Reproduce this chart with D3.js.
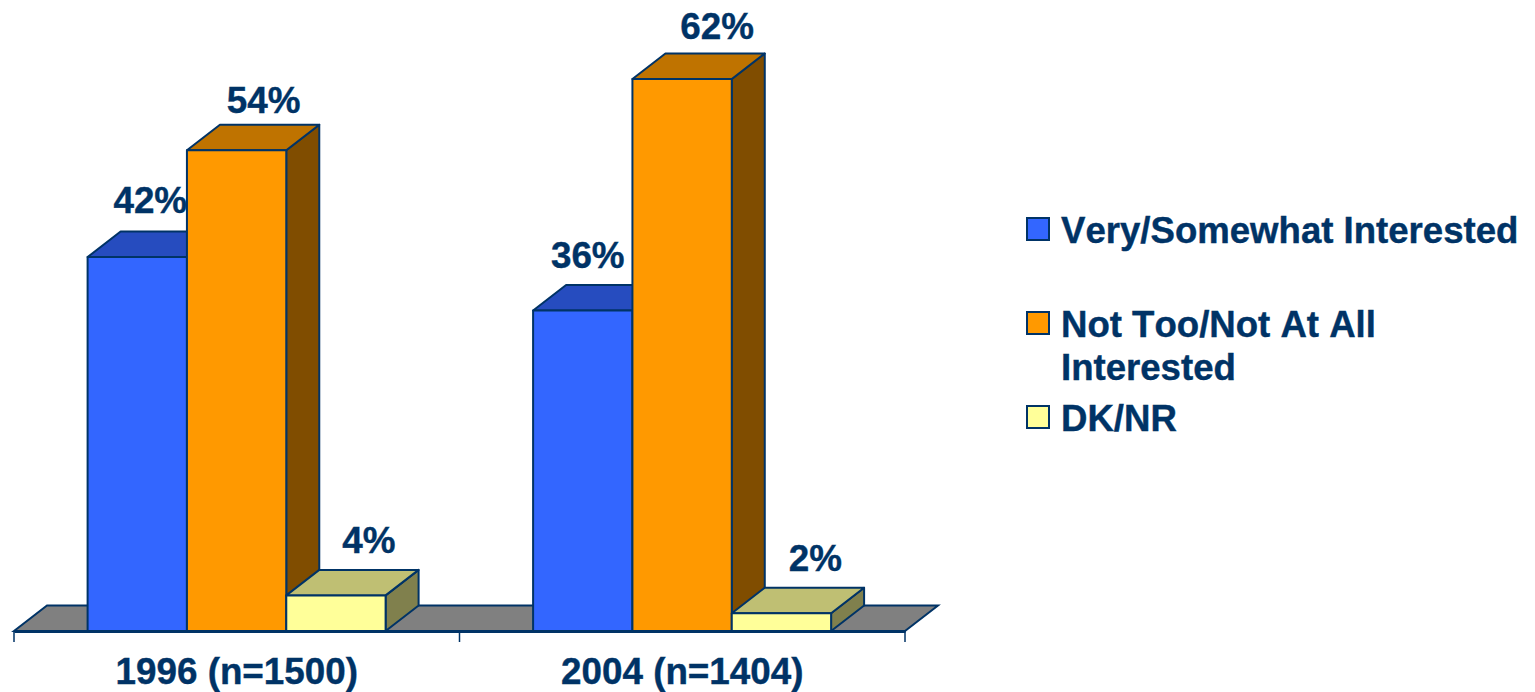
<!DOCTYPE html>
<html>
<head>
<meta charset="utf-8">
<script src="https://cdn.jsdelivr.net/npm/d3@7"></script>
<style>
  html, body { margin: 0; background: #fff; }
  svg { display: block; }
  text { font-family: "Liberation Sans", Arial, sans-serif; font-weight: bold; fill: #003366; font-kerning: none; stroke: #003366; stroke-width: 0.4px; }
</style>
</head>
<body>
<div id="root"></div>
<script>
const categories = ["1996 (n=1500)", "2004 (n=1404)"];
const seriesNames = ["Very/Somewhat Interested", "Not Too/Not At All Interested", "DK/NR"];
const veryInterested = [42, 36];
const notInterested = [54, 62];
const dontKnow = [4, 2];
const seriesValues = [veryInterested, notInterested, dontKnow];

const width = 1535;
const height = 692;
const baseY = 631;
const depthX = 33;
const depthY = 25.5;
const ink = "#003366";
const fontSize = 36.8;
const legendFontSize = 36.6;

const front = ["#3366FF", "#FF9900", "#FFFF99"];
const top_ = ["#264CBF", "#BF7300", "#BFBF73"];
const side = ["#19337F", "#804D00", "#80804D"];

const x0 = d3.scaleBand().domain(categories).range([14, 905]);
const x1 = d3.scaleBand().domain(seriesNames).range([73.6, 371.6]);
const y = d3.scaleLinear().domain([0, 62]).range([baseY, 79]);

const bars = categories.flatMap((c, i) =>
  seriesNames.map((s, j) => ({ category: c, series: s, index: j, value: seriesValues[j][i] }))
);

const svg = d3
  .select("#root")
  .append("svg")
  .attr("width", width)
  .attr("height", height)
  .attr("viewBox", [0, 0, width, height]);

const poly = (pts) => d3.line()(pts) + "Z";

// floor
const [floorLeft, floorRight] = x0.range();
svg
  .append("path")
  .attr("d", poly([
    [floorLeft, baseY],
    [floorLeft + depthX, baseY - depthY],
    [floorRight + depthX, baseY - depthY],
    [floorRight, baseY],
  ]))
  .attr("fill", "#808080")
  .attr("stroke", ink)
  .attr("stroke-width", 2);

// bars
const bar = svg
  .append("g")
  .selectAll("g")
  .data(bars)
  .join("g")
  .attr("stroke", ink)
  .attr("stroke-width", 2)
  .attr("stroke-linejoin", "round");

const left = (d) => x0(d.category) + x1(d.series);
const right = (d) => left(d) + x1.bandwidth();

bar
  .append("path")
  .attr("fill", (d) => side[d.index])
  .attr("d", (d) => poly([
    [right(d), y(d.value)],
    [right(d) + depthX, y(d.value) - depthY],
    [right(d) + depthX, baseY - depthY],
    [right(d), baseY],
  ]));

bar
  .append("path")
  .attr("fill", (d) => top_[d.index])
  .attr("d", (d) => poly([
    [left(d), y(d.value)],
    [left(d) + depthX, y(d.value) - depthY],
    [right(d) + depthX, y(d.value) - depthY],
    [right(d), y(d.value)],
  ]));

bar
  .append("rect")
  .attr("fill", (d) => front[d.index])
  .attr("x", left)
  .attr("y", (d) => y(d.value))
  .attr("width", x1.bandwidth())
  .attr("height", (d) => baseY - y(d.value));

// value labels sit over the top face, the blue ones get pushed left of the orange bar
const labelNudge = [[13, 44], [27, 37], [33, 42], [5, 42], [35, 40], [34, 42]];

svg
  .append("g")
  .selectAll("text")
  .data(bars)
  .join("text")
  .attr("text-anchor", "middle")
  .attr("font-size", fontSize)
  .attr("x", (d, i) => left(d) + x1.bandwidth() / 2 + labelNudge[i][0])
  .attr("y", (d, i) => y(d.value) - labelNudge[i][1])
  .text((d) => d.value + "%");

// axis, ticks fall on the band edges so they are drawn apart from the labels
const axis = svg
  .append("g")
  .attr("transform", `translate(0,${baseY})`)
  .call(d3.axisBottom(x0).tickSize(0).tickPadding(0));

axis.select(".domain").attr("stroke", ink).attr("stroke-width", 3);
axis
  .selectAll(".tick text")
  .attr("font-size", fontSize)
  .attr("font-family", null)
  .attr("dy", null)
  .attr("y", 53);

axis
  .selectAll(".edge")
  .data([...categories.map((c) => x0(c)), floorRight])
  .join("line")
  .attr("class", "edge")
  .attr("x1", (d) => d)
  .attr("x2", (d) => d)
  .attr("y1", 0)
  .attr("y2", 11)
  .attr("stroke", ink)
  .attr("stroke-width", 1.5);

// legend
const legendLines = [["Very/Somewhat Interested"], ["Not Too/Not At All", "Interested"], ["DK/NR"]];
const legendBaseline = [243, 337, 431];

const legend = svg
  .append("g")
  .selectAll("g")
  .data(seriesNames)
  .join("g")
  .attr("transform", (d, i) => `translate(1027,${legendBaseline[i]})`);

legend
  .append("rect")
  .attr("y", -25)
  .attr("width", 22)
  .attr("height", 22)
  .attr("fill", (d, i) => front[i])
  .attr("stroke", ink)
  .attr("stroke-width", 2);

legend
  .append("text")
  .attr("font-size", legendFontSize)
  .selectAll("tspan")
  .data((d, i) => legendLines[i])
  .join("tspan")
  .attr("x", 34)
  .attr("y", (d, i) => i * 43)
  .text((d) => d);
</script>
</body>
</html>
